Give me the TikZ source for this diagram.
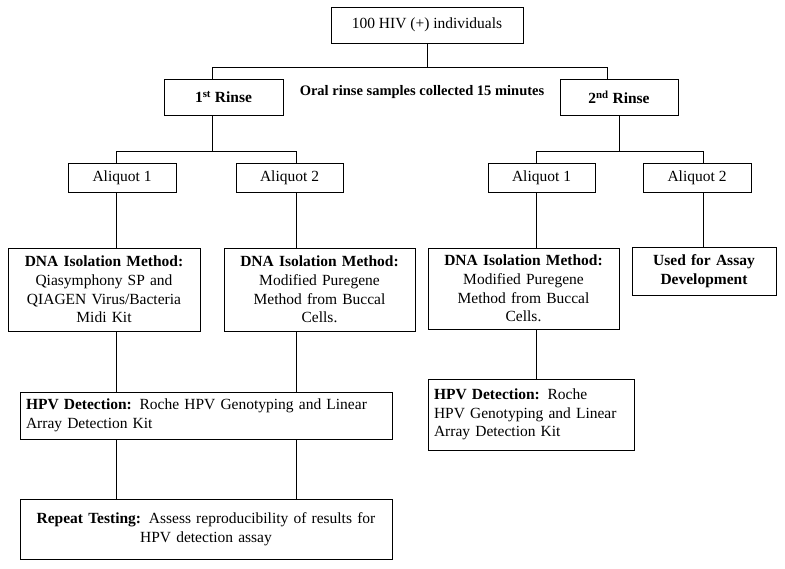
\documentclass[tikz,border=0pt]{standalone}
\usepackage{fontspec}
\setmainfont{Liberation Serif}
\begin{document}
\begin{tikzpicture}[x=1pt,y=1pt,
  box/.style={draw=black,line width=0.8pt,inner sep=0pt,minimum height=#1},
  box/.default=36,
  txt/.style={font=\fontsize{15.5}{18.7}\selectfont},
  con/.style={draw=black,line width=0.8pt}]
\useasboundingbox (0,0) rectangle (785,-568);
\node[box,txt,minimum width=192] (top) at (427,-25) {100 HIV (+) individuals};
\node[box,txt,minimum width=119] (r1) at (223.5,-97) {\textbf{1\textsuperscript{st} Rinse}};
\node[box,txt,minimum width=118] (r2) at (619,-97) {\textbf{2\textsuperscript{nd} Rinse}};
\node[font=\fontsize{14.5}{18.7}\selectfont,inner sep=0pt] (oral) at (422,-92) {\textbf{Oral rinse samples collected 15 minutes}};
\node[box=29,txt,minimum width=108] (a11) at (122,-177.5) {Aliquot 1};
\node[box=29,txt,minimum width=107] (a12) at (289.5,-177.5) {Aliquot 2};
\node[box=29,txt,minimum width=107] (a21) at (541.5,-177.5) {Aliquot 1};
\node[box=29,txt,minimum width=108] (a22) at (697,-177.5) {Aliquot 2};
\node[box=83,txt,minimum width=192,text width=186,align=center] (dna1) at (104,-289.5)
  {\textbf{DNA Isolation Method:}\\Qiasymphony SP and\\QIAGEN Virus/Bacteria\\Midi Kit};
\node[box=83,txt,minimum width=191,text width=185,align=center] (dna2) at (319.5,-289.5)
  {\textbf{DNA Isolation Method:}\\Modified Puregene\\Method from Buccal\\Cells.};
\node[box=81,txt,minimum width=191,text width=185,align=center] (dna3) at (523.5,-288.5)
  {\textbf{DNA Isolation Method:}\\Modified Puregene\\Method from Buccal\\Cells.};
\node[box=48,txt,minimum width=144,text width=138,align=center] (assay) at (704,-271)
  {\textbf{Used for Assay}\\\textbf{Development}};
\node[box=47,txt,minimum width=372,text width=360,align=left] (hpv1) at (206,-415.5)
  {\textbf{HPV Detection:} Roche HPV Genotyping and Linear\\Array Detection Kit};
\node[box=71,txt,minimum width=206,text width=194,align=left] (hpv2) at (531,-414.5)
  {\textbf{HPV Detection:} Roche\\HPV Genotyping and Linear\\Array Detection Kit};
\node[box=60,txt,minimum width=372,text width=366,align=center] (rep) at (206,-529)
  {\textbf{Repeat Testing:} Assess reproducibility of results for\\HPV detection assay\\[7pt]};
% connectors
\draw[con] (top.south) -- ++(0,-24) coordinate (j0);
\draw[con] ([xshift=-11.5]r1.north) |- (j0) -| ([xshift=-12]r2.north);
\draw[con] ([xshift=-11.5]r1.south) -- ++(0,-36) coordinate (j1);
\draw[con] ([xshift=-6]a11.north) |- (j1) -| ([xshift=6.5]a12.north);
\draw[con] (r2.south) -- ++(0,-36) coordinate (j2);
\draw[con] ([xshift=-5.5]a21.north) |- (j2) -| ([xshift=6]a22.north);
\draw[con] ([xshift=-6]a11.south) -- ([xshift=12]dna1.north);
\draw[con] ([xshift=6.5]a12.south) -- ([xshift=-23.5]dna2.north);
\draw[con] ([xshift=-5.5]a21.south) -- ([xshift=12.5]dna3.north);
\draw[con] ([xshift=6]a22.south) -- ([xshift=-1]assay.north);
\draw[con] ([xshift=12]dna1.south) -- ([xshift=-90]hpv1.north);
\draw[con] ([xshift=-23.5]dna2.south) -- ([xshift=90]hpv1.north);
\draw[con] ([xshift=12.5]dna3.south) -- ([xshift=5]hpv2.north);
\draw[con] ([xshift=-90]hpv1.south) -- ([xshift=-90]rep.north);
\draw[con] ([xshift=90]hpv1.south) -- ([xshift=90]rep.north);
\end{tikzpicture}
\end{document}
